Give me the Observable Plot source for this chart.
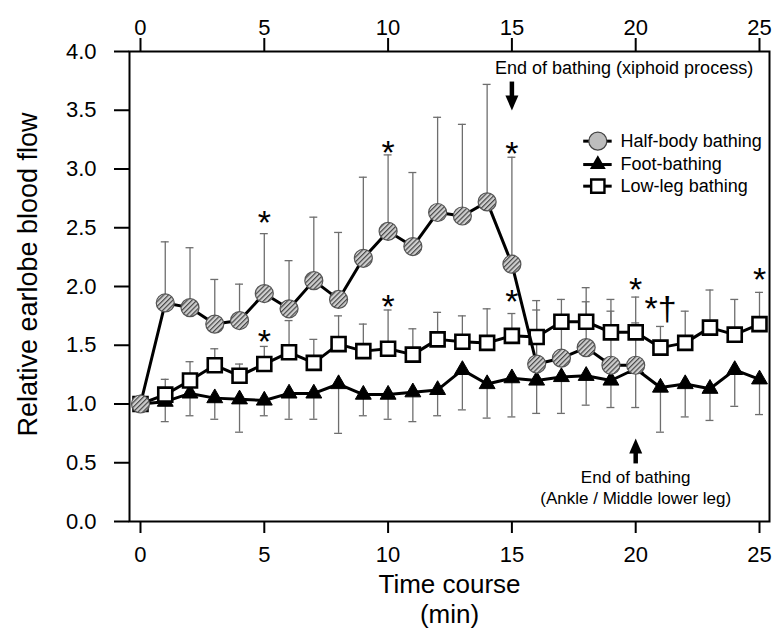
<!DOCTYPE html>
<html><head><meta charset="utf-8">
<script src="https://cdn.jsdelivr.net/npm/d3@7"></script>
<script src="https://cdn.jsdelivr.net/npm/@observablehq/plot@0.6"></script>
<style>
body{margin:0;background:#fff;}
svg{font-family:"Liberation Sans",Arial,Helvetica,sans-serif;}
</style>
</head><body><div id="chart"></div>
<script>
// ---- data ----
const times = [0,1,2,3,4,5,6,7,8,9,10,11,12,13,14,15,16,17,18,19,20,21,22,23,24,25];

const halfBody      = [1.00,1.86,1.82,1.68,1.71,1.94,1.81,2.05,1.89,2.24,2.47,2.34,2.63,2.60,2.72,2.19,1.34,1.39,1.48,1.33,1.33];
const halfBodyUpper = [null,2.38,2.33,2.06,2.02,2.45,2.22,2.59,2.46,2.93,3.12,2.97,3.44,3.38,3.72,3.10,1.80,1.74,1.87,1.79,1.69];

const footBath      = [1.00,1.02,1.09,1.05,1.04,1.03,1.09,1.09,1.17,1.08,1.08,1.10,1.12,1.29,1.17,1.22,1.20,1.23,1.24,1.20,1.30,1.14,1.17,1.13,1.29,1.21];
const footBathLower = [null,0.85,0.90,0.87,0.76,0.90,0.87,0.87,0.75,0.90,0.87,0.85,0.90,0.95,0.88,0.89,0.92,0.92,0.99,0.97,0.97,0.76,0.89,0.86,0.98,0.91];

const lowLeg        = [1.00,1.08,1.20,1.33,1.24,1.34,1.44,1.35,1.51,1.45,1.47,1.42,1.55,1.53,1.52,1.58,1.57,1.70,1.70,1.61,1.61,1.48,1.52,1.65,1.59,1.68];
const lowLegUpper   = [null,1.21,1.36,1.47,1.34,1.49,1.71,1.55,1.75,1.68,1.80,1.64,1.78,1.75,1.81,1.77,1.88,1.89,1.99,1.89,1.91,1.66,1.79,1.97,1.89,1.95];

const sigTimes  = [5,5,10,10,15,15,20,21,25];
const sigValues = [2.62,1.60,3.21,1.90,3.20,1.94,2.05,1.88,2.13];
const sigLabels = ["*","*","*","*","*","*","*","*\u2020","*"];

const seriesNames = ["Half-body bathing","Foot-bathing","Low-leg bathing"];
const xTicks = [0,5,10,15,20,25];
const yTicks = [0,0.5,1,1.5,2,2.5,3,3.5,4];

const noteTop = ["End of bathing (xiphoid process)"];
const noteBottom = ["End of bathing","(Ankle / Middle lower leg)"];
const xLabel = ["Time course","(min)"];
const yLabel = ["Relative earlobe blood flow"];

// ---- build rows ----
const rowsOf = (vals, errs) => vals.map((v,i)=>({t: times[i], v, e: errs[i]}));
const hb = rowsOf(halfBody, halfBodyUpper);
const fb = rowsOf(footBath, footBathLower);
const ll = rowsOf(lowLeg, lowLegUpper);
const withErr = rows => rows.filter(d => d.e != null);
const sig = sigTimes.map((t,i)=>({t, v: sigValues[i], label: sigLabels[i]}));

const capHalf = 0.16;
const errColor = "#6e6e6e";

const arrowDown = {draw(ctx){ ctx.moveTo(0,0); ctx.lineTo(-6.5,-15); ctx.lineTo(6.5,-15); ctx.closePath(); }};
const arrowUp   = {draw(ctx){ ctx.moveTo(0,0); ctx.lineTo(-6.5,15); ctx.lineTo(6.5,15); ctx.closePath(); }};

const legendRows = seriesNames.map((name,i)=>({name, i, y: [3.237,3.038,2.854][i]}));

const errMarks = (rows) => [
  Plot.ruleX(withErr(rows), {x:"t", y1:"v", y2:"e", stroke: errColor, strokeWidth: 1.3}),
  Plot.ruleY(withErr(rows), {y:"e", x1: d=>d.t-capHalf, x2: d=>d.t+capHalf, stroke: errColor, strokeWidth: 1.3})
];

const chart = Plot.plot({
  width: 773, height: 630,
  marginLeft: 129, marginRight: 4, marginTop: 51, marginBottom: 109,
  x: {domain: [-0.444, 25.404]},
  y: {domain: [0, 4]},
  style: {background: "white", color: "black", fontFamily: '"Liberation Sans",Arial,sans-serif'},
  marks: [
    ...errMarks(fb), ...errMarks(ll), ...errMarks(hb),
    Plot.frame({stroke: "black", strokeWidth: 2}),
    Plot.axisX({anchor: "bottom", ticks: xTicks, tickSize: 12, tickPadding: 13, fontSize: 22, strokeWidth: 2, label: null}),
    Plot.axisX({anchor: "top", ticks: xTicks, tickSize: 14, tickPadding: 3, fontSize: 22, strokeWidth: 2, label: null}),
    Plot.axisY({anchor: "left", ticks: yTicks, tickFormat: d => d.toFixed(1), tickSize: 15, tickPadding: 18, fontSize: 22, strokeWidth: 2, label: null}),
    // foot-bathing
    Plot.line(fb, {x:"t", y:"v", stroke:"black", strokeWidth: 3}),
    Plot.dot(fb, {x:"t", y:"v", symbol:"triangle", r: 5.9, fill:"black", stroke:"black", strokeWidth: 1}),
    // low-leg bathing
    Plot.line(ll, {x:"t", y:"v", stroke:"black", strokeWidth: 3}),
    Plot.dot(ll, {x:"t", y:"v", symbol:"square", r: 7.9, fill:"white", stroke:"black", strokeWidth: 2.6}),
    // half-body bathing
    Plot.line(hb, {x:"t", y:"v", stroke:"black", strokeWidth: 3}),
    Plot.dot(hb, {x:"t", y:"v", r: 9, fill:"#c8c8c8", stroke:"#555", strokeWidth: 1.2}),
    // significance markers
    Plot.text(sig, {x:"t", y:"v", text:"label", fontSize: 34, dy: 9, fill: "black"}),
    // annotations
    Plot.text(noteTop, {x: 19.53, y: 3.855, text: d=>d, fontSize: 18}),
    Plot.ruleX([15], {x: d=>d, y1: 3.74, y2: 3.60, stroke:"black", strokeWidth: 4.5}),
    Plot.dot([15], {x: d=>d, y: 3.498, symbol: arrowDown, fill:"black", stroke:"none"}),
    Plot.ruleX([20], {x: d=>d, y1: 0.49, y2: 0.65, stroke:"black", strokeWidth: 4.5}),
    Plot.dot([20], {x: d=>d, y: 0.706, symbol: arrowUp, fill:"black", stroke:"none"}),
    Plot.text(noteBottom, {x: 20, y: (d,i)=>[0.377,0.196][i], text: d=>d, fontSize: 17}),
    // legend
    Plot.ruleY(legendRows, {y:"y", x1: 17.9, x2: 19.05, stroke:"black", strokeWidth: 3}),
    Plot.dot(legendRows.filter(d=>d.i===0), {x: 18.47, y:"y", r: 9, fill:"#bdbdbd", stroke:"#444", strokeWidth: 1.2}),
    Plot.dot(legendRows.filter(d=>d.i===1), {x: 18.47, y:"y", symbol:"triangle", r: 5.9, fill:"black"}),
    Plot.dot(legendRows.filter(d=>d.i===2), {x: 18.47, y:"y", symbol:"square", r: 7.5, fill:"white", stroke:"black", strokeWidth: 2.4}),
    Plot.text(legendRows, {x: 19.39, y:"y", text:"name", textAnchor:"start", fontSize: 18}),
    // axis titles
    Plot.text(yLabel, {frameAnchor:"left", text: d=>d, rotate: -90, textAnchor:"middle", lineAnchor:"middle", dx: -101, dy: -12, fontSize: 27}),
    Plot.text([xLabel[0]], {frameAnchor:"bottom", text: d=>d, textAnchor:"middle", lineAnchor:"middle", dy: 63, fontSize: 26}),
    Plot.text([xLabel[1]], {frameAnchor:"bottom", text: d=>d, textAnchor:"middle", lineAnchor:"middle", dy: 93, fontSize: 26})
  ]
});

// hatch pattern for half-body markers
const ns = "http://www.w3.org/2000/svg";
const defs = document.createElementNS(ns, "defs");
defs.innerHTML = '<pattern id="hatch" width="3.4" height="3.4" patternUnits="userSpaceOnUse" patternTransform="rotate(45)">' +
  '<rect width="3.4" height="3.4" fill="#cfcfcf"/><line x1="0.6" y1="0" x2="0.6" y2="3.4" stroke="#474747" stroke-width="1.2"/></pattern>';
chart.insertBefore(defs, chart.firstChild);
chart.querySelectorAll('[fill="#c8c8c8"]').forEach(el => el.setAttribute("fill", "url(#hatch)"));

document.getElementById("chart").appendChild(chart);
</script>
</body></html>
